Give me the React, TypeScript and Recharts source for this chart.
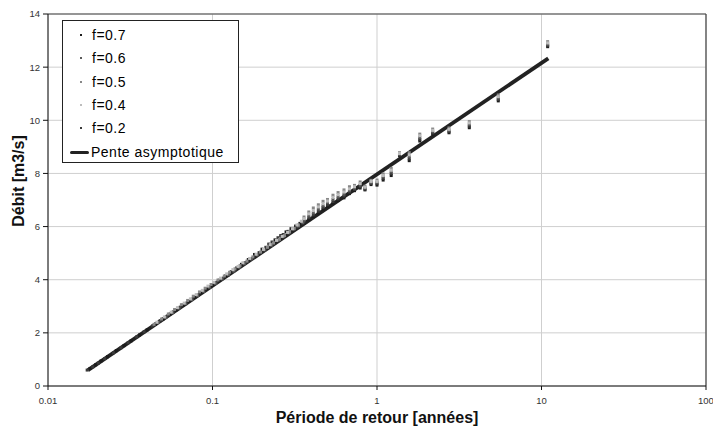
import React from 'react';
import { ScatterChart, Scatter, XAxis, YAxis, CartesianGrid, ReferenceLine, Legend } from 'recharts';

const xTicks = [0.01, 0.1, 1, 10, 100];
const yTicks = [0, 2, 4, 6, 8, 10, 12, 14];

const seriesNames = ['f=0.7', 'f=0.6', 'f=0.5', 'f=0.4', 'f=0.2'];
const seriesColors = ['#1c1c1c', '#5a5a5a', '#888888', '#bdbdbd', '#3a3a3a'];
const lineName = 'Pente asymptotique';

// [return period (years), discharge (m3/s)]
const f07: [number, number][] = [
  [0.018, 0.66], [0.0195, 0.8], [0.021, 0.94], [0.023, 1.1], [0.026, 1.33], [0.029, 1.52], [0.032, 1.7],
  [0.036, 1.92], [0.04, 2.11], [0.045, 2.33], [0.05, 2.52], [0.055, 2.7], [0.06, 2.86], [0.066, 3.04],
  [0.072, 3.2], [0.078, 3.35], [0.085, 3.52], [0.092, 3.66], [0.1, 3.8], [0.11, 3.98], [0.12, 4.14],
  [0.13, 4.3], [0.14, 4.44], [0.15, 4.58], [0.165, 4.76], [0.18, 4.95], [0.2, 5.15], [0.22, 5.34],
  [0.24, 5.5], [0.26, 5.66], [0.28, 5.8], [0.3, 5.92], [0.32, 6.02], [0.34, 6.12],
  [0.36, 6.12], [0.385, 6.26], [0.41, 6.38], [0.44, 6.5], [0.47, 6.66], [0.5, 6.76], [0.54, 6.88],
  [0.58, 6.98], [0.63, 7.08], [0.68, 7.24], [0.73, 7.35], [0.79, 7.45], [0.845, 7.38], [0.92, 7.58],
  [1.0, 7.56], [1.09, 7.75], [1.22, 7.92], [1.37, 8.66], [1.57, 8.48], [1.82, 9.22], [2.18, 9.48],
  [2.74, 9.53], [3.64, 9.72], [5.46, 10.73], [10.9, 12.77],
];

const f06: [number, number][] = [
  [0.0468, 2.39], [0.052, 2.58], [0.0572, 2.76], [0.0624, 2.93], [0.0686, 3.1],
  [0.0749, 3.25], [0.0811, 3.4], [0.0884, 3.56], [0.0957, 3.72], [0.104, 3.86], [0.114, 4.03], [0.125, 4.2],
  [0.135, 4.33], [0.146, 4.47], [0.156, 4.6], [0.172, 4.78], [0.187, 4.93], [0.208, 5.12], [0.229, 5.3],
  [0.25, 5.47], [0.27, 5.62], [0.291, 5.76], [0.312, 5.9], [0.333, 6.02], [0.354, 6.14],
  [0.36, 6.24], [0.385, 6.4], [0.41, 6.52], [0.44, 6.66], [0.47, 6.78], [0.5, 6.9], [0.54, 7.02],
  [0.58, 7.12], [0.63, 7.22], [0.68, 7.36], [0.73, 7.45], [0.79, 7.56], [0.845, 7.45], [0.92, 7.66],
  [1.0, 7.66], [1.09, 7.87], [1.22, 8.06], [1.37, 8.72], [1.57, 8.63], [1.82, 9.35], [2.18, 9.57],
  [2.74, 9.62], [3.64, 9.84], [5.46, 10.84], [10.9, 12.86],
];

const f05: [number, number][] = [
  [0.0441, 2.32], [0.049, 2.52], [0.0539, 2.71], [0.0588, 2.88], [0.0647, 3.06],
  [0.0706, 3.22], [0.0764, 3.38], [0.0833, 3.54], [0.0902, 3.68], [0.098, 3.82], [0.108, 3.99], [0.118, 4.14],
  [0.127, 4.28], [0.137, 4.41], [0.147, 4.53], [0.162, 4.7], [0.176, 4.86], [0.196, 5.04], [0.216, 5.22],
  [0.235, 5.38], [0.255, 5.52], [0.274, 5.66], [0.294, 5.8], [0.314, 5.93], [0.333, 6.06],
  [0.36, 6.36], [0.385, 6.55], [0.41, 6.7], [0.44, 6.82], [0.47, 6.95], [0.5, 7.02], [0.54, 7.18],
  [0.58, 7.28], [0.63, 7.38], [0.68, 7.5], [0.73, 7.55], [0.79, 7.68], [0.845, 7.52], [0.92, 7.74],
  [1.0, 7.75], [1.09, 7.98], [1.22, 8.19], [1.37, 8.78], [1.57, 8.78], [1.82, 9.48], [2.18, 9.67],
  [2.74, 9.71], [3.64, 9.95], [5.46, 10.95], [10.9, 12.96],
];

const f04: [number, number][] = [
  [0.0459, 2.4], [0.051, 2.6], [0.0561, 2.78], [0.0612, 2.95], [0.0673, 3.12],
  [0.0734, 3.28], [0.0796, 3.44], [0.0867, 3.6], [0.0938, 3.76], [0.102, 3.9], [0.112, 4.06], [0.122, 4.22],
  [0.133, 4.38], [0.143, 4.5], [0.153, 4.64], [0.168, 4.8], [0.184, 4.96], [0.204, 5.14], [0.224, 5.32],
  [0.245, 5.48], [0.265, 5.63], [0.286, 5.78], [0.306, 5.92], [0.326, 6.06], [0.347, 6.2],
  [0.36, 6.3], [0.385, 6.48], [0.41, 6.6], [0.44, 6.74], [0.47, 6.86], [0.5, 6.96], [0.54, 7.1],
  [0.58, 7.2], [0.63, 7.3], [0.68, 7.42], [0.73, 7.5], [0.79, 7.62], [0.845, 7.48], [0.92, 7.7],
  [1.0, 7.7], [1.09, 7.92], [1.22, 8.12], [1.37, 8.75], [1.57, 8.7], [1.82, 9.42], [2.18, 9.62],
  [2.74, 9.66], [3.64, 9.9], [5.46, 10.89], [10.9, 12.91],
];

const f02: [number, number][] = [
  [0.0173, 0.6], [0.0187, 0.72], [0.0202, 0.86], [0.0221, 1.03], [0.025, 1.25], [0.0278, 1.44], [0.0307, 1.63],
  [0.0346, 1.85], [0.0384, 2.04], [0.0432, 2.26], [0.048, 2.45], [0.0528, 2.62], [0.0576, 2.78], [0.0634, 2.96],
  [0.0691, 3.1], [0.0749, 3.26], [0.0816, 3.42], [0.0883, 3.56], [0.096, 3.72], [0.106, 3.9], [0.115, 4.04],
  [0.125, 4.18], [0.134, 4.32], [0.144, 4.46], [0.158, 4.64], [0.173, 4.8], [0.192, 5.02], [0.211, 5.22],
  [0.23, 5.42], [0.25, 5.58], [0.269, 5.7], [0.288, 5.82], [0.307, 5.9], [0.326, 5.98],
  [0.36, 6.18], [0.385, 6.33], [0.41, 6.44], [0.44, 6.58], [0.47, 6.72], [0.5, 6.82], [0.54, 6.94],
  [0.58, 7.04], [0.63, 7.15], [0.68, 7.3], [0.73, 7.4], [0.79, 7.5], [0.845, 7.41], [0.92, 7.62],
  [1.0, 7.61], [1.09, 7.81], [1.22, 7.99], [1.37, 8.69], [1.57, 8.55], [1.82, 9.28], [2.18, 9.52],
  [2.74, 9.57], [3.64, 9.78], [5.46, 10.78], [10.9, 12.81],
];

const lineT = [0.0175, 11];
const lineQ = [0.6, 12.33];

const seriesData = [f07, f06, f05, f04, f02];
// drawing order: dark series first, lighter series on top
const drawOrder = [0, 4, 1, 2, 3];

const FONT = '"Liberation Sans", Arial, Helvetica, sans-serif';

const toPts = (arr: [number, number][]) => arr.map(([t, q]) => ({ t, q }));
const linePts = lineT.map((t, i) => ({ t, q: lineQ[i] }));

const makeShape = (color: string) => (p: any) => {
  if (p.cx == null || p.cy == null) return <g />;
  return <rect x={p.cx - 1.5} y={p.cy - 1.5} width={3} height={3} fill={color} />;
};

const NoShape = () => <g />;

function LegendBox() {
  const rowTop = (i: number) => 14 + i * 23.35 - 10;
  return (
    <div
      style={{
        position: 'relative',
        width: 177,
        height: 143,
        border: '1px solid #222',
        background: '#fff',
        boxSizing: 'border-box',
        fontFamily: FONT,
        fontSize: 14,
        letterSpacing: 0.5,
        color: '#000',
      }}
    >
      {seriesNames.map((name, i) => (
        <div key={name} style={{ position: 'absolute', left: 0, top: rowTop(i), height: 20, lineHeight: '20px', width: 170 }}>
          <div style={{ position: 'absolute', left: 17, top: 9, width: 2, height: 2, background: seriesColors[i] }} />
          <span style={{ position: 'absolute', left: 29, top: 0, whiteSpace: 'nowrap' }}>{name}</span>
        </div>
      ))}
      <div style={{ position: 'absolute', left: 0, top: rowTop(5), height: 20, lineHeight: '20px', width: 175 }}>
        <div style={{ position: 'absolute', left: 7, top: 9, width: 19, height: 3.5, background: '#222', borderRadius: 1.5 }} />
        <span style={{ position: 'absolute', left: 28, top: 0, whiteSpace: 'nowrap' }}>{lineName}</span>
      </div>
    </div>
  );
}

const XTitle = () => (
  <text x={377} y={423} textAnchor="middle" fontFamily={FONT} fontWeight="bold" fontSize={16} fill="#111">
    Période de retour [années]
  </text>
);

const YTitle = () => (
  <text
    x={23.5}
    y={181}
    transform="rotate(-90 23.5 181)"
    textAnchor="middle"
    fontFamily={FONT}
    fontWeight="bold"
    fontSize={16}
    fill="#111"
  >
    Débit [m3/s]
  </text>
);

export default function App() {
  return (
    <div style={{ position: 'absolute', left: 0, top: 0, width: 713, height: 428, background: '#fff', fontFamily: FONT }}>
      <ScatterChart width={713} height={428} margin={{ top: 14, right: 7, left: 0, bottom: 0 }}>
        <CartesianGrid stroke="#cfcfcf" strokeWidth={1} />
        <XAxis
          dataKey="t"
          type="number"
          scale="log"
          domain={[0.01, 100]}
          ticks={xTicks}
          allowDataOverflow
          height={42}
          tickFormatter={(v: number) => String(v)}
          tick={{ fontSize: 9.5, fill: '#333', fontFamily: FONT }}
          tickSize={4}
          tickMargin={7}
          stroke="#111"
          label={<XTitle />}
        />
        <YAxis
          dataKey="q"
          type="number"
          domain={[0, 14]}
          ticks={yTicks}
          allowDataOverflow
          width={48}
          tick={{ fontSize: 9.5, fill: '#333', fontFamily: FONT }}
          tickSize={5}
          tickMargin={3}
          stroke="#111"
          label={<YTitle />}
        />
        <ReferenceLine y={14} stroke="#444" strokeWidth={1.2} />
        <ReferenceLine x={100} stroke="#444" strokeWidth={1.2} />
        <Scatter
          name={lineName}
          data={linePts}
          line={{ stroke: '#222', strokeWidth: 3.8 }}
          shape={NoShape}
          fill="#222"
          isAnimationActive={false}
        />
        {drawOrder.map((i) => (
          <Scatter
            key={seriesNames[i]}
            name={seriesNames[i]}
            data={toPts(seriesData[i])}
            fill={seriesColors[i]}
            shape={makeShape(seriesColors[i])}
            isAnimationActive={false}
          />
        ))}
        <Legend
          layout="vertical"
          align="center"
          verticalAlign="middle"
          wrapperStyle={{ left: 62, top: 20, width: 177, height: 143 }}
          content={() => <LegendBox />}
        />
      </ScatterChart>
    </div>
  );
}
